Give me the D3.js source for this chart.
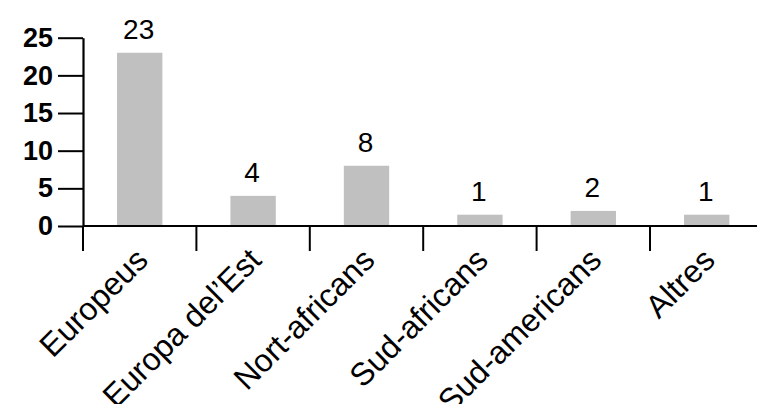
<!DOCTYPE html>
<html>
<head>
<meta charset="utf-8">
<script src="https://cdn.jsdelivr.net/npm/d3@7"></script>
<style>
  html, body { margin: 0; padding: 0; background: #fff; }
  svg { display: block; }
  text { font-family: "Liberation Sans", Arial, Helvetica, sans-serif; }
</style>
</head>
<body>
<svg id="chart" width="757" height="404"></svg>
<script>
const categories = ["Europeus", "Europa del\u2019Est", "Nort-africans", "Sud-africans", "Sud-americans", "Altres"];
const values = [23, 4, 8, 1.5, 2, 1.5];
const valueLabels = ["23", "4", "8", "1", "2", "1"];
const yTicks = [0, 5, 10, 15, 20, 25];

const svg = d3.select("#chart");
const x0 = 83, x1 = 763.4, yBase = 226, yTop = 37.7;

const x = d3.scaleBand().domain(categories).range([x0, x1]).paddingInner(0.6).paddingOuter(0.3);
const y = d3.scaleLinear().domain([0, 25]).range([yBase, yTop]);
const step = x.step();

// bars
svg.append("g").selectAll("rect").data(categories).join("rect")
  .attr("x", d => x(d))
  .attr("width", x.bandwidth())
  .attr("y", (d, i) => y(values[i]))
  .attr("height", (d, i) => yBase - y(values[i]))
  .attr("fill", "#c0c0c0");

// value labels
svg.append("g").selectAll("text").data(categories).join("text")
  .attr("x", d => x(d) + x.bandwidth() / 2 - 1)
  .attr("y", (d, i) => y(values[i]) - 14)
  .attr("text-anchor", "middle")
  .attr("font-size", 28)
  .attr("fill", "#000")
  .text((d, i) => valueLabels[i]);

// y axis
const yAxis = svg.append("g").attr("transform", `translate(${x0},0)`)
  .call(d3.axisLeft(y).tickValues(yTicks).tickSize(25).tickSizeOuter(0).tickPadding(5));
yAxis.select(".domain").attr("stroke", "#000").attr("stroke-width", 2.2);
yAxis.selectAll(".tick line").attr("stroke", "#000").attr("stroke-width", 2);
yAxis.selectAll(".tick text")
  .attr("font-family", "'Liberation Sans', Arial, Helvetica, sans-serif")
  .attr("font-size", 27).attr("font-weight", "bold").attr("fill", "#000");

// x axis line
svg.append("line")
  .attr("x1", x0).attr("x2", 757).attr("y1", yBase).attr("y2", yBase)
  .attr("stroke", "#000").attr("stroke-width", 2.2);

// x ticks at band boundaries
svg.append("g").selectAll("line").data(categories).join("line")
  .attr("x1", d => x(d) - x.paddingOuter() * step)
  .attr("x2", d => x(d) - x.paddingOuter() * step)
  .attr("y1", yBase).attr("y2", yBase + 25)
  .attr("stroke", "#000").attr("stroke-width", 2);

// x labels rotated
svg.append("g").selectAll("text").data(categories).join("text")
  .attr("transform", d => `translate(${x(d) + x.bandwidth() / 2 + 10},${yBase + 36}) rotate(-45)`)
  .attr("text-anchor", "end")
  .attr("font-size", 32)
  .attr("fill", "#000")
  .text(d => d);
</script>
</body>
</html>
